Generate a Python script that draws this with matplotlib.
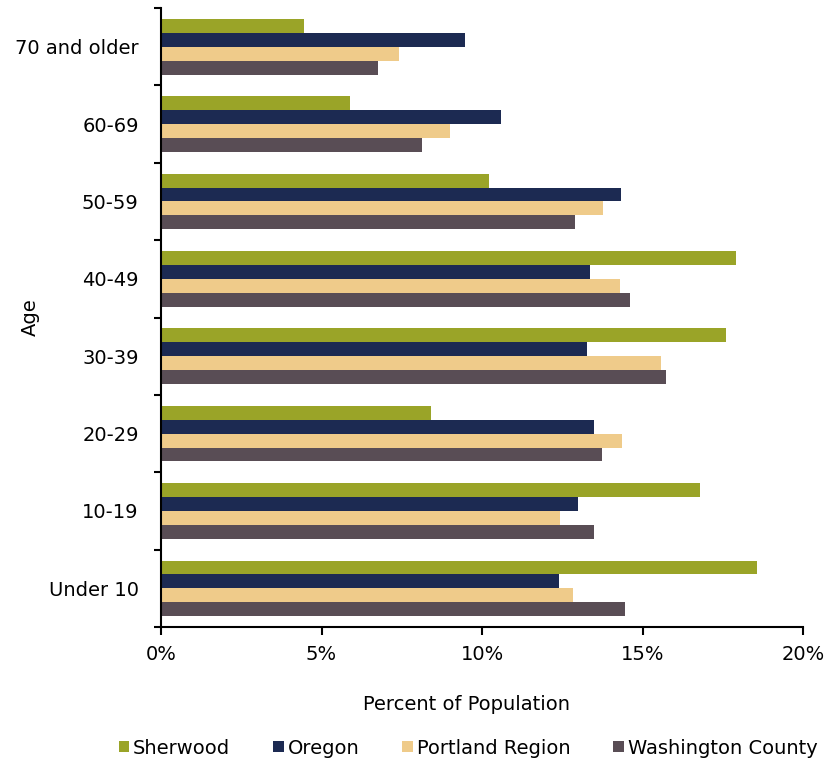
import numpy as np
import matplotlib
matplotlib.use("Agg")
import matplotlib.pyplot as plt
from matplotlib.ticker import FuncFormatter

# age groups, bottom to top
ages = ["Under 10", "10-19", "20-29", "30-39", "40-49", "50-59", "60-69", "70 and older"]

# percent of population per age group
sherwood = [18.56, 16.78, 8.42, 17.59, 17.90, 10.22, 5.89, 4.47]
oregon = [12.39, 13.00, 13.49, 13.27, 13.36, 14.32, 10.59, 9.48]
portland = [12.84, 12.44, 14.36, 15.57, 14.29, 13.76, 9.01, 7.42]
washington = [14.45, 13.49, 13.72, 15.74, 14.60, 12.89, 8.13, 6.77]

series = ["Sherwood", "Oregon", "Portland Region", "Washington County"]
colors = ["#9aa428", "#1c2a52", "#efcb8a", "#594d55"]

plt.rcParams["font.family"] = ["DejaVu Sans"]

fig = plt.figure(figsize=(8.28, 7.61), dpi=100)
ax = fig.add_axes([0.1944, 0.176, 0.7756, 0.8135])

y = np.arange(len(ages))
h = 0.18
offsets = [1.5 * h, 0.5 * h, -0.5 * h, -1.5 * h]
for vals, name, col, off in zip([sherwood, oregon, portland, washington], series, colors, offsets):
    ax.barh(y + off, vals, height=h, color=col, label=name)

ax.set_xlim(0, 20)
ax.set_ylim(-0.5, len(ages) - 0.5)
ax.set_xticks([0, 5, 10, 15, 20])
ax.xaxis.set_major_formatter(FuncFormatter(lambda v, p: f"{v:.0f}%"))
ax.set_yticks(y)
ax.set_yticklabels(ages)
ax.set_yticks(np.arange(-0.5, len(ages)), minor=True)
ax.tick_params(axis="y", which="major", length=0, pad=16, labelsize=14)
ax.tick_params(axis="y", which="minor", length=5, width=1.5, direction="out")
ax.tick_params(axis="x", length=6, width=1.5, direction="out", labelsize=14, pad=7)

for s in ["top", "right"]:
    ax.spines[s].set_visible(False)
for s in ["left", "bottom"]:
    ax.spines[s].set_linewidth(1.5)

ax.set_ylabel("Age", fontsize=14)
ax.yaxis.set_label_coords(-0.188, 0.5)
fig.text(467 / 828, 1 - 705 / 761, "Percent of Population", fontsize=14,
         ha="center", va="center")

fig.legend(loc="center", bbox_to_anchor=(468 / 828, 1 - 748 / 761), ncol=4, frameon=False,
           fontsize=14, handlelength=0.55, handleheight=0.55, handletextpad=0.2,
           columnspacing=2.2, borderpad=0)

fig.savefig("out.png", dpi=100)
